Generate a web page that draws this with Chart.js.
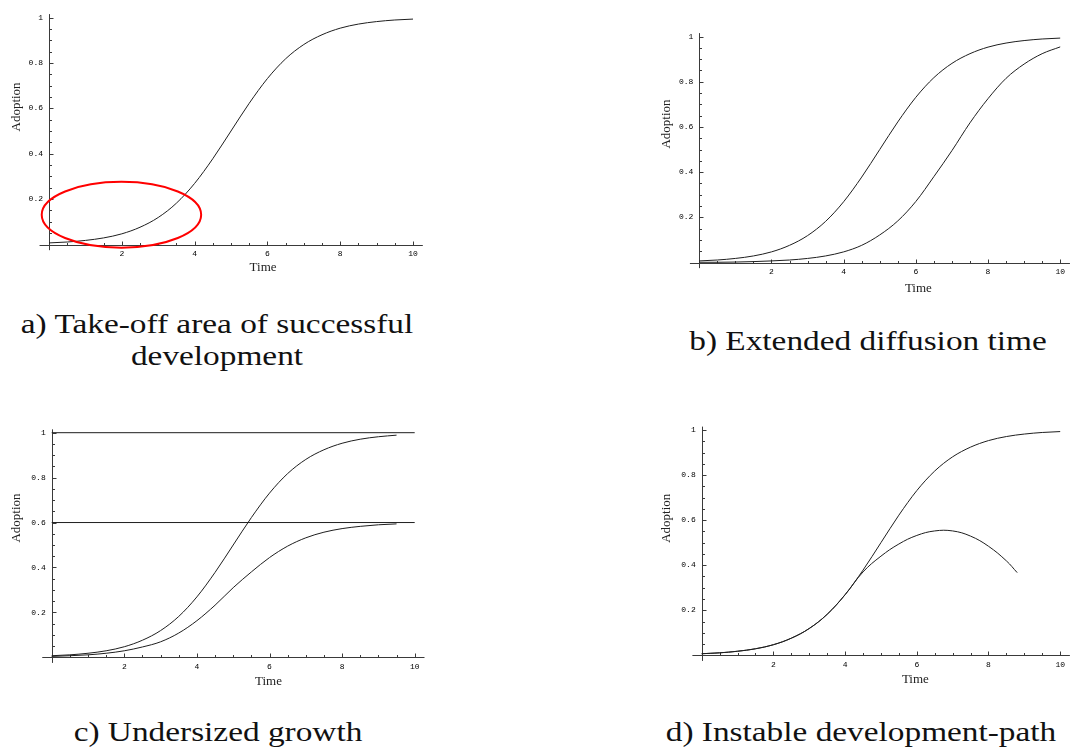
<!DOCTYPE html>
<html>
<head>
<meta charset="utf-8">
<script src="https://cdn.jsdelivr.net/npm/chart.js@4.4.1/dist/chart.umd.min.js"></script>
<style>
  html, body { margin: 0; padding: 0; background: #fff; }
  #page { position: relative; width: 1070px; height: 747px; overflow: hidden; }
  canvas { position: absolute; }
  .cap {
    position: absolute; width: 600px; text-align: center;
    font-family: 'Liberation Serif', 'Times New Roman', serif;
    font-size: 28px; line-height: 32px; color: #111;
    transform: scaleX(1.19); transform-origin: 50% 0;
    white-space: nowrap;
  }
</style>
</head>
<body>
<div id="page">
  <canvas id="pa" width="440" height="290"></canvas>
  <canvas id="pb" width="420" height="300"></canvas>
  <canvas id="pc" width="440" height="290"></canvas>
  <canvas id="pd" width="420" height="290"></canvas>
  <div class="cap" style="left:-83px; top:308px;">a) Take-off area of successful<br>development</div>
  <div class="cap" style="left:568px; top:325px;">b) Extended diffusion time</div>
  <div class="cap" style="left:-82px; top:716px;">c) Undersized growth</div>
  <div class="cap" style="left:561px; top:716px;">d) Instable development-path</div>
</div>
<script>
// values
const timeSteps = [0, 0.5, 1, 1.5, 2, 2.5, 3, 3.5, 4, 4.5, 5, 5.5, 6, 6.5, 7, 7.5, 8, 8.5, 9, 9.5, 10];
const successCurve = [0.007, 0.011, 0.018, 0.029, 0.047, 0.076, 0.119, 0.182, 0.269, 0.378, 0.5,
  0.622, 0.731, 0.818, 0.881, 0.924, 0.953, 0.971, 0.982, 0.989, 0.993];
const delayedCurve = [0.001, 0.001, 0.002, 0.004, 0.007, 0.011, 0.018, 0.029, 0.047, 0.076, 0.122,
  0.184, 0.27, 0.38, 0.495, 0.618, 0.725, 0.815, 0.878, 0.924, 0.954];
const cappedTime = [0, 0.5, 1, 1.5, 2, 2.5, 3, 3.5, 4, 4.5, 5, 5.5, 6, 6.5, 7, 7.5, 8, 8.5, 9, 9.5];
const cappedCurve = [0.007, 0.011, 0.018, 0.029, 0.047, 0.076, 0.119, 0.182, 0.269, 0.378, 0.5,
  0.622, 0.731, 0.818, 0.881, 0.924, 0.953, 0.971, 0.982, 0.989];
const undersizedCurve = [0.004, 0.007, 0.011, 0.018, 0.029, 0.046, 0.069, 0.108, 0.163, 0.232, 0.31,
  0.38, 0.444, 0.495, 0.532, 0.557, 0.573, 0.583, 0.59, 0.594];
const ceilingLevels = [1, 0.6];
const unstableTime = [0, 0.5, 1, 1.5, 2, 2.5, 3, 3.5, 4, 4.5, 5, 5.5, 6, 6.5, 7, 7.5, 8, 8.5, 8.8];
const unstableCurve = [0.007, 0.011, 0.018, 0.029, 0.047, 0.076, 0.119, 0.182, 0.269, 0.37, 0.44,
  0.494, 0.532, 0.552, 0.552, 0.529, 0.484, 0.419, 0.367];

const xTicks = [2, 4, 6, 8, 10];
const yTicks = [0.2, 0.4, 0.6, 0.8, 1];
const xTitle = 'Time';
const yTitle = 'Adoption';

// take-off area marked in panel a (data units)
const takeOff = { x: 1.99, y: 0.131, rx: 2.19, ry: 0.145 };

const Y_AXIS_W = 40;
const X_AXIS_H = 20;
const INK = '#1e1e1e';

function pts(xs, ys) {
  return xs.map((x, i) => ({ x: x, y: ys[i] }));
}
function curve(xs, ys, mode) {
  return { data: pts(xs, ys), borderColor: INK, borderWidth: 1, pointRadius: 0,
    cubicInterpolationMode: mode || 'monotone', tension: 0.4, fill: false, clip: false };
}
function level(v) {
  return { data: [{ x: 0, y: v }, { x: 10, y: v }], borderColor: INK, borderWidth: 1,
    pointRadius: 0, tension: 0, fill: false, clip: false };
}

// mathematica-style axes through the origin, inward ticks, minor ticks
const mathAxes = {
  id: 'mathAxes',
  beforeDatasetsDraw(chart, args, opts) {
    const ctx = chart.ctx;
    const xs = chart.scales.x, ys = chart.scales.y;
    const px = v => xs.getPixelForValue(v), py = v => ys.getPixelForValue(v);
    const ox = Math.round(px(0)) + 0.5, oy = Math.round(py(0)) + 0.5;
    ctx.save();
    ctx.strokeStyle = '#3a3a3a';
    ctx.lineWidth = 1;
    ctx.beginPath();
    ctx.moveTo(px(-0.26), oy); ctx.lineTo(px(10.27), oy);
    ctx.moveTo(ox, py(-0.025)); ctx.lineTo(ox, py(1.015));
    for (let i = 1; i <= 20; i++) {
      const t = Math.round(px(i * 0.5)) + 0.5;
      const len = i % 4 === 0 ? 4 : 2.5;
      ctx.moveTo(t, oy); ctx.lineTo(t, oy - len);
      const u = Math.round(py(i * 0.05)) + 0.5;
      ctx.moveTo(ox, u); ctx.lineTo(ox + len, u);
    }
    ctx.stroke();
    ctx.restore();
  },
  afterDatasetsDraw(chart, args, opts) {
    const ctx = chart.ctx;
    const xs = chart.scales.x, ys = chart.scales.y;
    const px = v => xs.getPixelForValue(v), py = v => ys.getPixelForValue(v);
    ctx.save();
    if (opts.ellipse) {
      const e = opts.ellipse;
      ctx.strokeStyle = '#ff0000';
      ctx.lineWidth = 2;
      ctx.beginPath();
      ctx.ellipse(px(e.x), py(e.y), px(e.x + e.rx) - px(e.x), py(e.y) - py(e.y + e.ry), 0, 0, Math.PI * 2);
      ctx.stroke();
    }
    ctx.fillStyle = '#222';
    ctx.font = '13px "Liberation Serif", "Times New Roman", serif';
    ctx.textAlign = 'center';
    ctx.textBaseline = 'middle';
    ctx.fillText(xTitle, px(opts.timeAt), py(0) + opts.timeDy);
    ctx.translate(px(0) - opts.adoptDx, py(opts.adoptAt));
    ctx.rotate(-Math.PI / 2);
    ctx.fillText(yTitle, 0, 0);
    ctx.restore();
  }
};

const tickFont = { family: '"Liberation Mono", "Courier New", monospace', size: 8 };

const panels = [
  { canvas: 'pa', box: [0, 0, 440, 290], area: [49, 17.5, 413, 244.5],
    timeAt: 5.88, timeDy: 23.5, adoptAt: 0.606, adoptDx: 32, ellipse: takeOff,
    datasets: [curve(timeSteps, successCurve)] },
  { canvas: 'pb', box: [650, 0, 420, 300], area: [699.3, 36.5, 1062.8, 262.5],
    timeAt: 6.07, timeDy: 26, adoptAt: 0.613, adoptDx: 32.6,
    datasets: [curve(timeSteps, successCurve), curve(timeSteps, delayedCurve)] },
  { canvas: 'pc', box: [0, 405, 440, 290], area: [51.7, 432.7, 414.7, 657.3],
    timeAt: 5.97, timeDy: 24, adoptAt: 0.62, adoptDx: 35,
    datasets: [level(ceilingLevels[0]), level(ceilingLevels[1]),
      curve(cappedTime, cappedCurve), curve(cappedTime, undersizedCurve)] },
  { canvas: 'pd', box: [650, 405, 420, 290], area: [701.7, 430, 1064.7, 655.3],
    timeAt: 5.96, timeDy: 24, adoptAt: 0.608, adoptDx: 35,
    datasets: [curve(timeSteps, successCurve), curve(unstableTime, unstableCurve, 'default')] }
];

panels.forEach(p => {
  const [bx, by, bw, bh] = p.box;
  const [L, T, R, B] = p.area;
  const el = document.getElementById(p.canvas);
  el.style.left = bx + 'px';
  el.style.top = by + 'px';
  new Chart(el, {
    type: 'line',
    data: { datasets: p.datasets },
    options: {
      responsive: false,
      animation: false,
      layout: { padding: { left: L - bx - Y_AXIS_W, top: T - by, right: bx + bw - R, bottom: by + bh - B - X_AXIS_H } },
      plugins: {
        legend: { display: false },
        tooltip: { enabled: false },
        mathAxes: { ellipse: p.ellipse, timeAt: p.timeAt, timeDy: p.timeDy, adoptAt: p.adoptAt, adoptDx: p.adoptDx }
      },
      scales: {
        x: {
          type: 'linear', position: 'bottom', min: 0, max: 10,
          grid: { display: false, drawTicks: false },
          border: { display: false },
          afterBuildTicks: s => { s.ticks = xTicks.map(v => ({ value: v })); },
          afterFit: s => { s.height = X_AXIS_H; },
          ticks: { font: tickFont, color: '#000', padding: 5, maxRotation: 0, autoSkip: false,
            callback: v => String(v) }
        },
        y: {
          type: 'linear', position: 'left', min: 0, max: 1,
          grid: { display: false, drawTicks: false },
          border: { display: false },
          afterBuildTicks: s => { s.ticks = yTicks.map(v => ({ value: v })); },
          afterFit: s => { s.width = Y_AXIS_W; },
          ticks: { font: tickFont, color: '#000', padding: 6, autoSkip: false,
            callback: v => String(v) }
        }
      }
    },
    plugins: [mathAxes]
  });
});
</script>
</body>
</html>
